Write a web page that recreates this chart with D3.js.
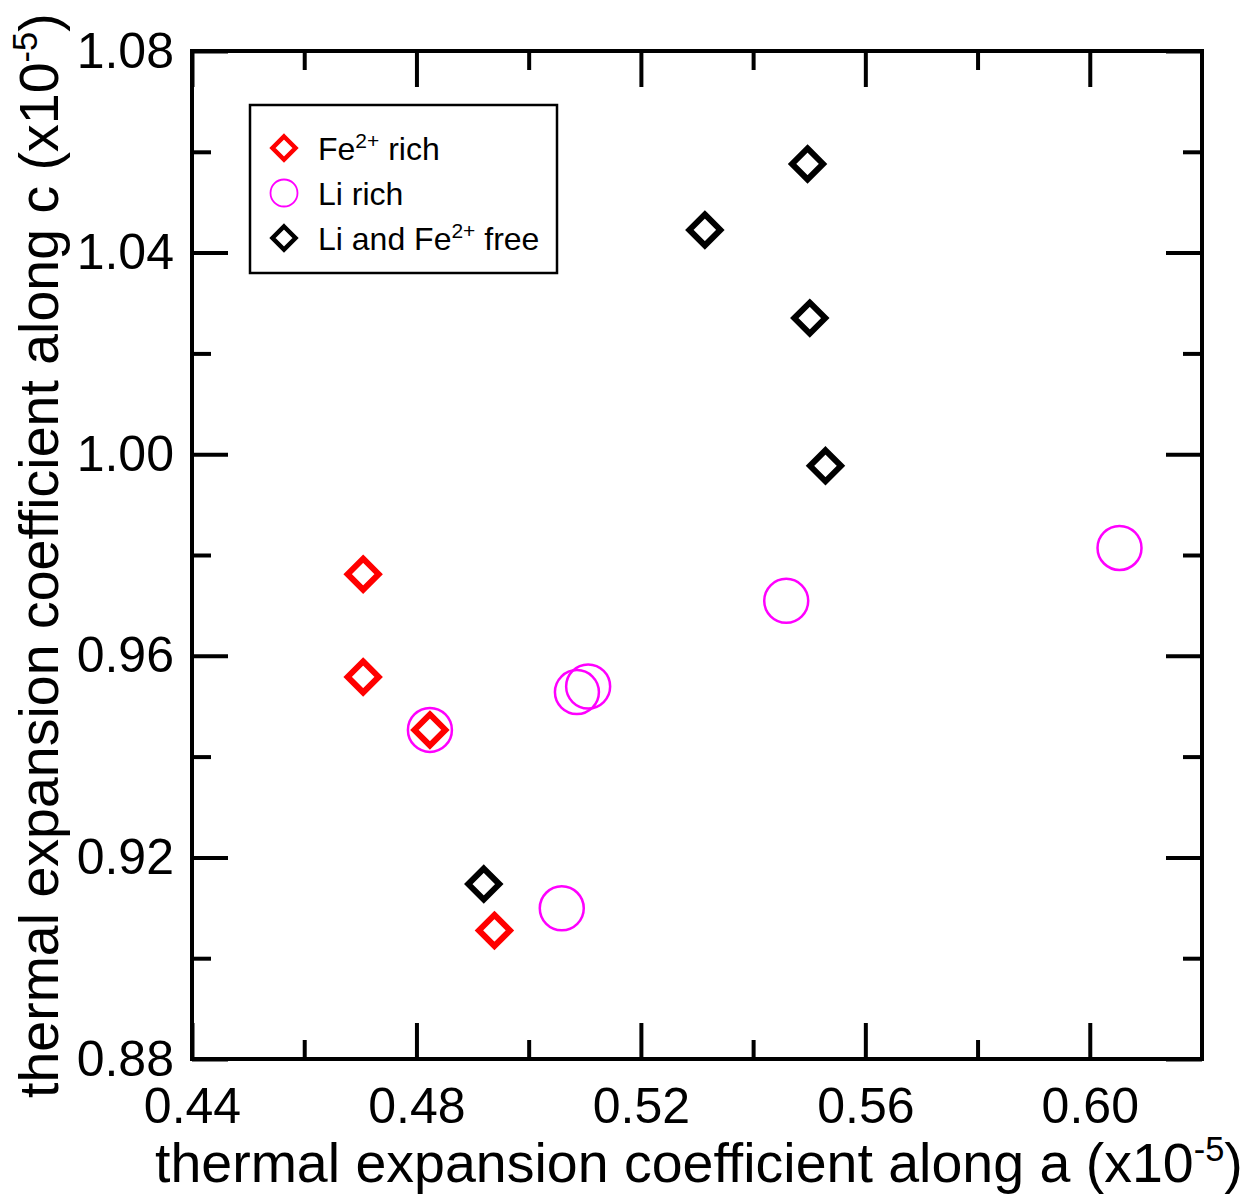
<!DOCTYPE html>
<html><head><meta charset="utf-8">
<script src="https://cdn.jsdelivr.net/npm/d3@7"></script>
<style>
html,body{margin:0;padding:0;background:#fff;}
svg{display:block;font-family:"Liberation Sans",Arial,Helvetica,sans-serif;}
</style></head>
<body>
<svg id="chart" width="1249" height="1197"></svg>
<script>
// ---- data ----
const feRichA = [0.4705, 0.4705, 0.4824, 0.4939];
const feRichC = [0.9762, 0.9558, 0.9453, 0.9055];

const liRichA = [0.4824, 0.5059, 0.5086, 0.5106, 0.5459, 0.6053];
const liRichC = [0.9453, 0.9099, 0.9528, 0.9539, 0.9709, 0.9814];

const freeA = [0.4920, 0.5314, 0.5497, 0.5501, 0.5529];
const freeC = [0.9147, 1.0445, 1.0576, 1.0270, 0.9977];

const xMajorTicks = [0.44, 0.48, 0.52, 0.56, 0.60];
const xMinorTicks = [0.46, 0.50, 0.54, 0.58];
const yMajorTicks = [0.88, 0.92, 0.96, 1.00, 1.04, 1.08];
const yMinorTicks = [0.90, 0.94, 0.98, 1.02, 1.06];

const legendLabels = [
  {text: "Fe", sup: "2+", rest: " rich"},
  {text: "Li rich", sup: null, rest: ""},
  {text: "Li and Fe", sup: "2+", rest: " free"}
];

// ---- layout ----
const svg = d3.select("#chart");
const L = 192, R = 1202, T = 51, B = 1059;
const x = d3.scaleLinear().domain([0.44, 0.62]).range([L, R]);
const y = d3.scaleLinear().domain([0.88, 1.08]).range([B, T]);

const MAJ = 36, MIN = 19, AXW = 4;
const fontTick = 50;

function styleAxis(g){
  g.select(".domain").remove();
  g.selectAll(".tick line").attr("stroke", "#000").attr("stroke-width", AXW);
  g.selectAll("text").attr("fill", "#000").attr("font-size", fontTick)
    .attr("font-family", "'Liberation Sans',Arial,sans-serif");
}

// bottom
svg.append("g").attr("transform", `translate(0,${B})`)
  .call(d3.axisBottom(x).tickValues(xMajorTicks).tickSizeInner(-MAJ).tickSizeOuter(0)
    .tickPadding(28).tickFormat(d3.format(".2f"))).call(styleAxis);
svg.append("g").attr("transform", `translate(0,${B})`)
  .call(d3.axisBottom(x).tickValues(xMinorTicks).tickSizeInner(-MIN).tickSizeOuter(0)
    .tickFormat("")).call(styleAxis);
// top
svg.append("g").attr("transform", `translate(0,${T})`)
  .call(d3.axisTop(x).tickValues(xMajorTicks).tickSizeInner(-MAJ).tickSizeOuter(0)
    .tickFormat("")).call(styleAxis);
svg.append("g").attr("transform", `translate(0,${T})`)
  .call(d3.axisTop(x).tickValues(xMinorTicks).tickSizeInner(-MIN).tickSizeOuter(0)
    .tickFormat("")).call(styleAxis);
// left
svg.append("g").attr("transform", `translate(${L},0)`)
  .call(d3.axisLeft(y).tickValues(yMajorTicks).tickSizeInner(-MAJ).tickSizeOuter(0)
    .tickPadding(18).tickFormat(d3.format(".2f"))).call(styleAxis);
svg.append("g").attr("transform", `translate(${L},0)`)
  .call(d3.axisLeft(y).tickValues(yMinorTicks).tickSizeInner(-MIN).tickSizeOuter(0)
    .tickFormat("")).call(styleAxis);
// right
svg.append("g").attr("transform", `translate(${R},0)`)
  .call(d3.axisRight(y).tickValues(yMajorTicks).tickSizeInner(-MAJ).tickSizeOuter(0)
    .tickFormat("")).call(styleAxis);
svg.append("g").attr("transform", `translate(${R},0)`)
  .call(d3.axisRight(y).tickValues(yMinorTicks).tickSizeInner(-MIN).tickSizeOuter(0)
    .tickFormat("")).call(styleAxis);

// frame
svg.append("rect").attr("x", L).attr("y", T).attr("width", R - L).attr("height", B - T)
  .attr("fill", "none").attr("stroke", "#000").attr("stroke-width", AXW);

// ---- marks ----
const RED = "#ff0000", MAG = "#ff00ff", BLK = "#000000";
function diamondPath(h){ return `M0,${-h}L${h},0L0,${h}L${-h},0Z`; }

const gMarks = svg.append("g");
gMarks.selectAll("circle.li").data(d3.range(liRichA.length)).join("circle")
  .attr("class", "li")
  .attr("cx", i => x(liRichA[i])).attr("cy", i => y(liRichC[i]))
  .attr("r", 22).attr("fill", "none").attr("stroke", MAG).attr("stroke-width", 2.5);

gMarks.selectAll("path.fe").data(d3.range(feRichA.length)).join("path")
  .attr("class", "fe")
  .attr("transform", i => `translate(${x(feRichA[i])},${y(feRichC[i])})`)
  .attr("d", diamondPath(15.5)).attr("fill", "none").attr("stroke", RED)
  .attr("stroke-width", 6).attr("stroke-linejoin", "miter");

gMarks.selectAll("path.free").data(d3.range(freeA.length)).join("path")
  .attr("class", "free")
  .attr("transform", i => `translate(${x(freeA[i])},${y(freeC[i])})`)
  .attr("d", diamondPath(15.5)).attr("fill", "none").attr("stroke", BLK)
  .attr("stroke-width", 6).attr("stroke-linejoin", "miter");

// ---- legend ----
const lg = svg.append("g");
lg.append("rect").attr("x", 250).attr("y", 105).attr("width", 307).attr("height", 168)
  .attr("fill", "#fff").attr("stroke", "#000").attr("stroke-width", 2.5);
const rowY = [148, 193, 238];
lg.append("path").attr("transform", `translate(284,${rowY[0]})`).attr("d", diamondPath(11.5))
  .attr("fill", "none").attr("stroke", RED).attr("stroke-width", 4.5);
lg.append("circle").attr("cx", 284).attr("cy", rowY[1]).attr("r", 13.5)
  .attr("fill", "none").attr("stroke", MAG).attr("stroke-width", 1.8);
lg.append("path").attr("transform", `translate(284,${rowY[2]})`).attr("d", diamondPath(11.5))
  .attr("fill", "none").attr("stroke", BLK).attr("stroke-width", 4.5);

legendLabels.forEach((lab, i) => {
  const t = lg.append("text").attr("x", 318).attr("y", rowY[i] + 12)
    .attr("font-size", 32).attr("fill", "#000");
  t.append("tspan").text(lab.text);
  if (lab.sup) {
    t.append("tspan").attr("font-size", 21).attr("dy", -12).text(lab.sup);
    t.append("tspan").attr("dy", 12).text(lab.rest);
  }
});

// ---- axis titles ----
function titleText(sel, main){
  sel.append("tspan").text(main + " (x10");
  sel.append("tspan").attr("font-size", "0.62em").attr("dy", "-0.62em").text("-5");
  sel.append("tspan").attr("dy", "0.385em").text(")");
}
const xt = svg.append("text").attr("x", 155).attr("y", 1182).attr("font-size", 54).attr("fill", "#000");
titleText(xt, "thermal expansion coefficient along a");
const yt = svg.append("text").attr("transform", "translate(58,1098) rotate(-90)")
  .attr("font-size", 54).attr("fill", "#000");
titleText(yt, "thermal expansion coefficient along c");

// fit title widths to the reference extent
function fit(sel, target){
  const w = sel.node().getComputedTextLength();
  if (w > 0) sel.attr("font-size", 54 * target / w);
}
fit(xt, 1088);
fit(yt, 1085);
</script>
</body></html>
